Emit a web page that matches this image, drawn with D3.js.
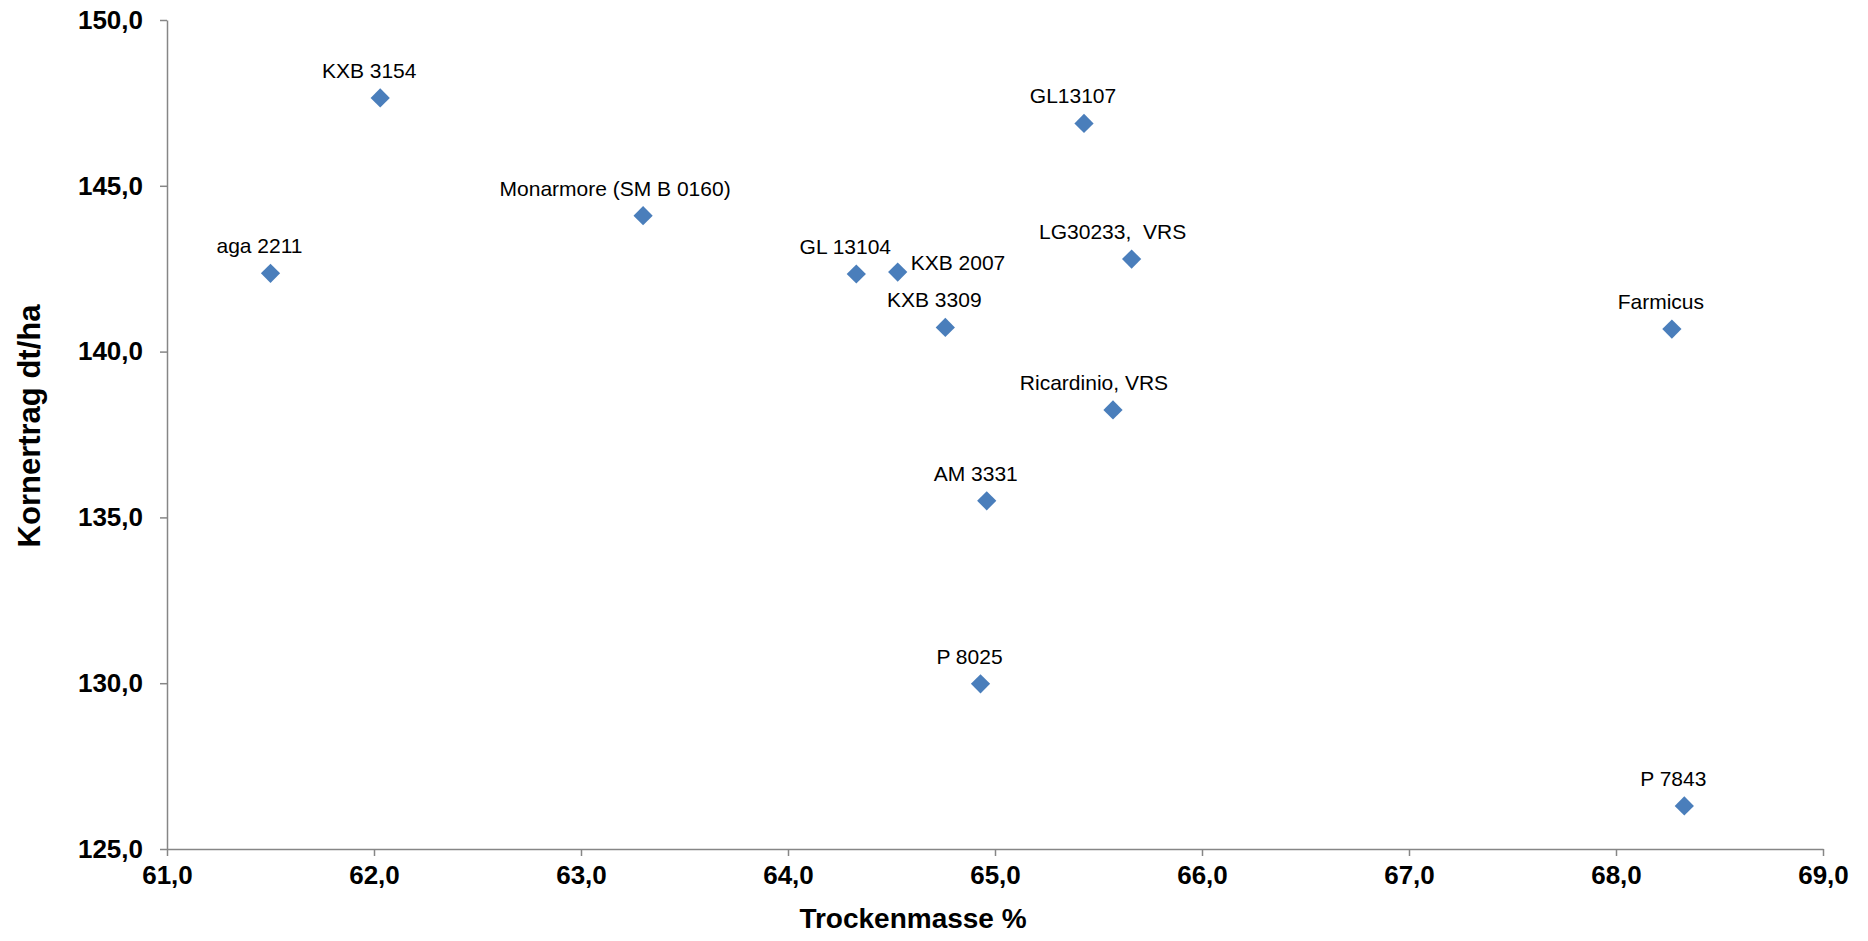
<!DOCTYPE html>
<html>
<head>
<meta charset="utf-8">
<script src="https://cdn.jsdelivr.net/npm/d3@7"></script>
<style>
  body { margin: 0; background: #fff; }
  text { font-family: "Liberation Sans", Arial, sans-serif; }
</style>
</head>
<body>
<div id="chart"></div>
<script>
// varieties and their values
const sorten = ["KXB 3154", "GL13107", "Monarmore (SM B 0160)", "aga 2211", "GL 13104", "KXB 2007",
  "LG30233,  VRS", "KXB 3309", "Farmicus", "Ricardinio, VRS", "AM 3331", "P 8025", "P 7843"]
const trockenmasse = [62.03, 65.43, 63.30, 61.50, 64.33, 64.53, 65.66, 64.76, 68.27, 65.57, 64.96, 64.93, 68.33]
const kornertrag = [147.65, 146.88, 144.10, 142.36, 142.34, 142.40, 142.79, 140.73, 140.68, 138.24, 135.50, 129.98, 126.30]

const xTicks = [61, 62, 63, 64, 65, 66, 67, 68, 69]
const yTicks = [125, 130, 135, 140, 145, 150]

const width = 1868
const height = 941
const margin = { top: 20, right: 45, bottom: 92, left: 167 }

const de = d3.formatLocale({ decimal: ",", thousands: ".", grouping: [3], currency: ["", " €"] })
const fmt = de.format(".1f")

const svg = d3.select("#chart").append("svg")
  .attr("width", width)
  .attr("height", height)

const x = d3.scaleLinear().domain([61, 69]).range([margin.left, width - margin.right])
const y = d3.scaleLinear().domain([125, 150]).range([height - margin.bottom, margin.top])

const axisColor = "#868686"

// x axis
const gx = svg.append("g")
  .attr("transform", "translate(0," + (height - margin.bottom) + ")")
  .call(d3.axisBottom(x).tickValues(xTicks).tickFormat(fmt).tickSize(7).tickPadding(10).tickSizeOuter(0))

// y axis
const gy = svg.append("g")
  .attr("transform", "translate(" + margin.left + ",0)")
  .call(d3.axisLeft(y).tickValues(yTicks).tickFormat(fmt).tickSize(7).tickPadding(17).tickSizeOuter(0))

for (const g of [gx, gy]) {
  g.select(".domain").attr("stroke", axisColor).attr("stroke-width", 1.5)
  g.selectAll(".tick line").attr("stroke", axisColor).attr("stroke-width", 1.5)
  g.selectAll(".tick text")
    .attr("fill", "#000")
    .style("font-family", "'Liberation Sans', Arial, sans-serif")
    .style("font-size", "26px")
    .style("font-weight", "bold")
}

// axis titles
svg.append("text")
  .attr("x", 913)
  .attr("y", 928)
  .attr("text-anchor", "middle")
  .style("font-size", "28px")
  .style("font-weight", "bold")
  .text("Trockenmasse %")

svg.append("text")
  .attr("transform", "translate(40," + 426 + ") rotate(-90)")
  .attr("text-anchor", "middle")
  .style("font-size", "31px")
  .style("font-weight", "bold")
  .text("Kornertrag dt/ha")

const points = sorten.map((name, i) => ({ name, tm: trockenmasse[i], ke: kornertrag[i] }))

// markers
svg.append("g")
  .selectAll("path")
  .data(points)
  .join("path")
  .attr("transform", d => "translate(" + x(d.tm) + "," + y(d.ke) + ") rotate(45)")
  .attr("d", d3.symbol(d3.symbolSquare, 185))
  .attr("fill", "#4A7EBB")

// label placement (Excel puts most above, a few shifted)
const nudge = {
  "KXB 2007": { dx: 13, dy: -2, anchor: "start" },
  "Monarmore (SM B 0160)": { dx: -28, dy: -20, anchor: "middle" },
  "LG30233,  VRS": { dx: -19, dy: -20, anchor: "middle" },
  "Ricardinio, VRS": { dx: -19, dy: -20, anchor: "middle" }
}

svg.append("g")
  .selectAll("text")
  .data(points)
  .join("text")
  .attr("x", d => x(d.tm) + (nudge[d.name] ? nudge[d.name].dx : -11))
  .attr("y", d => y(d.ke) + (nudge[d.name] ? nudge[d.name].dy : -20))
  .attr("text-anchor", d => nudge[d.name] ? nudge[d.name].anchor : "middle")
  .style("white-space", "pre")
  .style("font-size", "21px")
  .attr("fill", "#000")
  .text(d => d.name)
</script>
</body>
</html>
